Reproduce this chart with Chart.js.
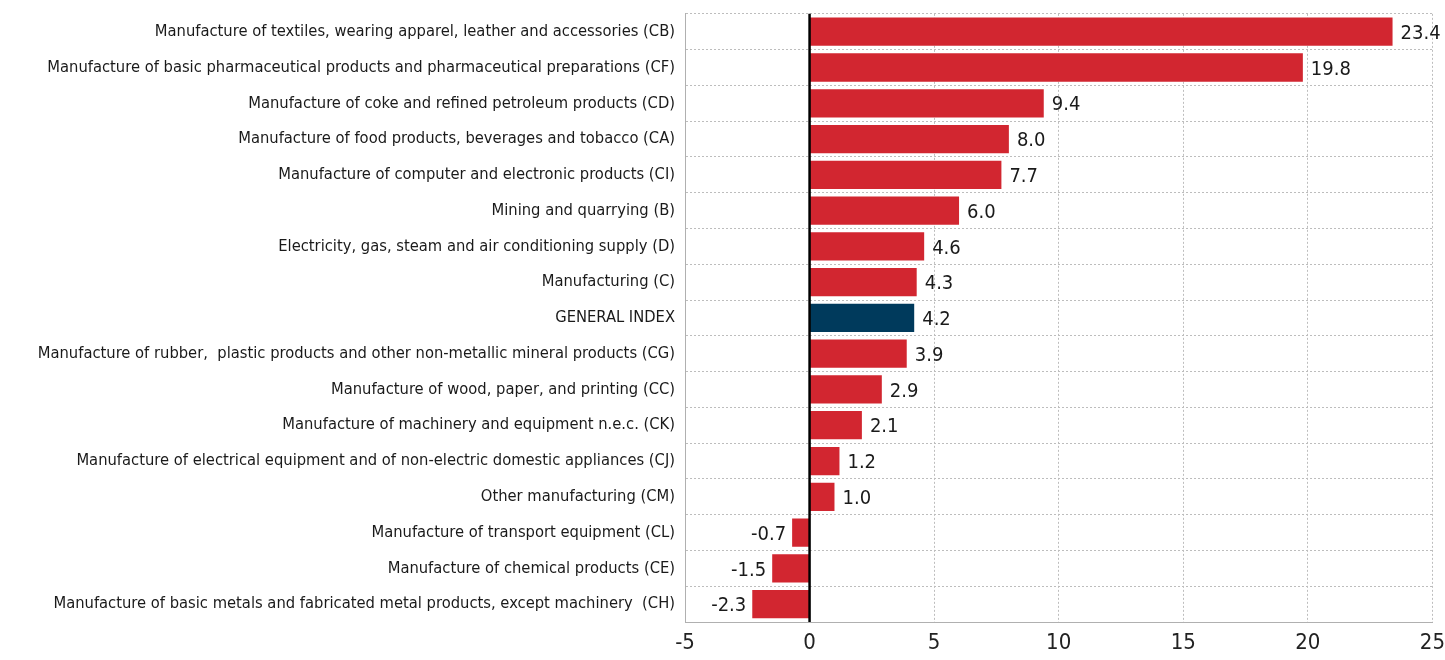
<!DOCTYPE html>
<html>
<head>
<meta charset="utf-8">
<script src="https://cdn.jsdelivr.net/npm/chart.js@4/dist/chart.umd.min.js"></script>
<style>
  html, body { margin: 0; padding: 0; background: #fff; overflow: hidden; width: 1445px; height: 660px; }
  #wrap { position: absolute; left: 0; top: -6px; width: 1453px; height: 666px; }
</style>
</head>
<body>
<div id="wrap"><canvas id="chart"></canvas></div>
<script>
const categories = [
  "Manufacture of textiles, wearing apparel, leather and accessories (CB)",
  "Manufacture of basic pharmaceutical products and pharmaceutical preparations (CF)",
  "Manufacture of coke and refined petroleum products (CD)",
  "Manufacture of food products, beverages and tobacco (CA)",
  "Manufacture of computer and electronic products (CI)",
  "Mining and quarrying (B)",
  "Electricity, gas, steam and air conditioning supply (D)",
  "Manufacturing (C)",
  "GENERAL INDEX",
  "Manufacture of rubber,  plastic products and other non-metallic mineral products (CG)",
  "Manufacture of wood, paper, and printing (CC)",
  "Manufacture of machinery and equipment n.e.c. (CK)",
  "Manufacture of electrical equipment and of non-electric domestic appliances (CJ)",
  "Other manufacturing (CM)",
  "Manufacture of transport equipment (CL)",
  "Manufacture of chemical products (CE)",
  "Manufacture of basic metals and fabricated metal products, except machinery  (CH)"
];
const values = [23.4, 19.8, 9.4, 8.0, 7.7, 6.0, 4.6, 4.3, 4.2, 3.9, 2.9, 2.1, 1.2, 1.0, -0.7, -1.5, -2.3];
const xTicks = [-5, 0, 5, 10, 15, 20, 25];

const FONT = "'Liberation Sans Narrow', 'Arial Narrow', 'DejaVu Sans Condensed', sans-serif";

// linha do zero e etiquetas de valor
const valueLabels = {
  id: "valueLabels",
  afterDatasetsDraw(chart) {
    const ctx = chart.ctx;
    const area = chart.chartArea;
    const x0 = chart.scales.x.getPixelForValue(0);
    ctx.save();
    ctx.strokeStyle = "#000";
    ctx.lineWidth = 2.5;
    ctx.beginPath();
    ctx.moveTo(x0, area.top);
    ctx.lineTo(x0, area.bottom);
    ctx.stroke();

    const meta = chart.getDatasetMeta(0);
    ctx.font = "20px " + FONT;
    ctx.fillStyle = "#1a1a1a";
    ctx.textBaseline = "middle";
    meta.data.forEach((bar, i) => {
      const v = values[i];
      const txt = v.toFixed(1);
      if (v >= 0) {
        ctx.textAlign = "left";
        ctx.fillText(txt, bar.x + 8, bar.y + 2);
      } else {
        ctx.textAlign = "right";
        ctx.fillText(txt, bar.x - 6, bar.y + 2);
      }
    });
    ctx.restore();
  }
};

const ctx = document.getElementById("chart").getContext("2d");
new Chart(ctx, {
  type: "bar",
  data: {
    labels: categories,
    datasets: [{
      data: values,
      backgroundColor: categories.map(c => c === "GENERAL INDEX" ? "#003a5c" : "#d22630"),
      barPercentage: 0.79,
      categoryPercentage: 1.0
    }]
  },
  options: {
    indexAxis: "y",
    responsive: true,
    maintainAspectRatio: false,
    animation: false,
    layout: { padding: { top: 5, right: 0, left: 0, bottom: 0 } },
    plugins: { legend: { display: false }, tooltip: { enabled: false } },
    scales: {
      x: {
        min: -5,
        max: 25,
        afterBuildTicks(scale) { scale.ticks = xTicks.map(v => ({ value: v })); },
        afterFit(scale) { scale.height = 38; },
        border: { display: true, dash: [2, 2], color: "#b0b0b0" },
        grid: { color: "#bdbdbd", lineWidth: 1, tickLength: 0 },
        ticks: {
          font: { family: FONT, size: 22 },
          color: "#222",
          padding: 8
        }
      },
      y: {
        afterFit(scale) { scale.width = 685; },
        border: { display: true, dash: [2, 2], color: "#b0b0b0" },
        grid: { color: "#bdbdbd", lineWidth: 1, tickLength: 0, offset: true },
        ticks: {
          font: { family: FONT, size: 16.4 },
          color: "#1a1a1a",
          padding: 10,
          autoSkip: false
        }
      }
    }
  },
  plugins: [valueLabels]
});
</script>
</body>
</html>
